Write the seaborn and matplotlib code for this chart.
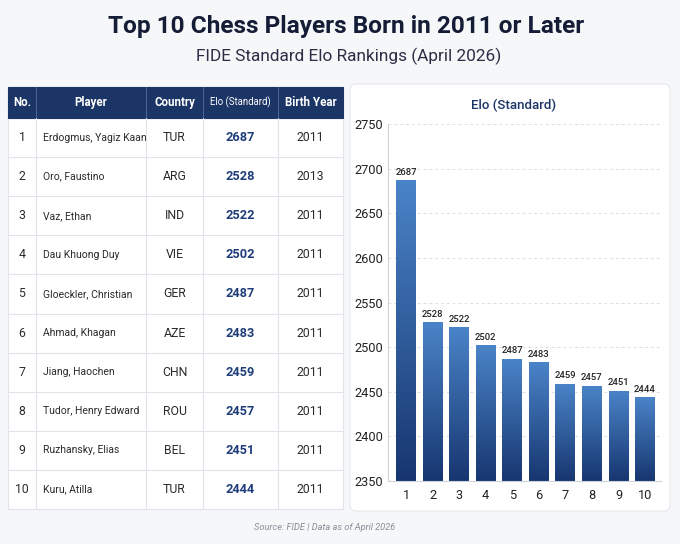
import numpy as np
import matplotlib
matplotlib.use('Agg')
import matplotlib.pyplot as plt
import seaborn as sns
from matplotlib.colors import LinearSegmentedColormap
from matplotlib.patches import Rectangle, FancyBboxPatch

# Data
ranks = [1, 2, 3, 4, 5, 6, 7, 8, 9, 10]
players = ['Erdogmus, Yagiz Kaan', 'Oro, Faustino', 'Vaz, Ethan', 'Dau Khuong Duy',
           'Gloeckler, Christian', 'Ahmad, Khagan', 'Jiang, Haochen',
           'Tudor, Henry Edward', 'Ruzhansky, Elias', 'Kuru, Atilla']
countries = ['TUR', 'ARG', 'IND', 'VIE', 'GER', 'AZE', 'CHN', 'ROU', 'BEL', 'TUR']
elo = [2687, 2528, 2522, 2502, 2487, 2483, 2459, 2457, 2451, 2444]
birth_years = [2011, 2013, 2011, 2011, 2011, 2011, 2011, 2011, 2011, 2011]
headers = ['No.', 'Player', 'Country', 'Elo (Standard)', 'Birth Year']

sns.set_style('white')
plt.rcParams['font.family'] = ['Roboto', 'DejaVu Sans']

navy = '#1b3566'
dark = '#141c36'
bg_col = '#f6f7f9'
line_col = '#e1e4ea'
txt = '#2b2b2b'

fig = plt.figure(figsize=(6.8, 5.44), dpi=100)
fig.patch.set_facecolor(bg_col)

# background axes in pixel coordinates
bg = fig.add_axes([0, 0, 1, 1])
bg.set_xlim(0, 680)
bg.set_ylim(544, 0)
bg.axis('off')

bg.text(346, 26, 'Top 10 Chess Players Born in 2011 or Later', ha='center', va='center',
        fontsize=17.6, fontweight='bold', color=dark)
bg.text(349, 56, 'FIDE Standard Elo Rankings (April 2026)', ha='center', va='center',
        fontsize=12.4, color='#2a2f45')

# table
col_edges = [8, 36, 146, 203, 278, 343]
head_top, head_bot, tab_bot = 87, 118, 509
row_h = (tab_bot - head_bot) / len(ranks)

bg.add_patch(Rectangle((col_edges[0], head_bot), col_edges[-1] - col_edges[0], tab_bot - head_bot,
                       facecolor='white', edgecolor=line_col, lw=0.8))
bg.add_patch(Rectangle((col_edges[0], head_top), col_edges[-1] - col_edges[0], head_bot - head_top,
                       facecolor=navy, edgecolor=navy, lw=0.8))
for xe in col_edges[1:-1]:
    bg.plot([xe, xe], [head_top, head_bot], color='#4a6290', lw=0.8)
    bg.plot([xe, xe], [head_bot, tab_bot], color=line_col, lw=0.8)
for i in range(1, len(ranks)):
    y = head_bot + i * row_h
    bg.plot([col_edges[0], col_edges[-1]], [y, y], color=line_col, lw=0.8)

centers = [(col_edges[i] + col_edges[i + 1]) / 2 for i in range(5)]
hy = (head_top + head_bot) / 2
for i, h in enumerate(headers):
    if i == 3:
        bg.text(centers[i], hy, h, ha='center', va='center', fontsize=6.9, color='white')
    else:
        bg.text(centers[i], hy, h, ha='center', va='center', fontsize=8.3, fontweight='bold', color='white')

for i in range(len(ranks)):
    y = head_bot + (i + 0.5) * row_h
    bg.text(centers[0], y, str(ranks[i]), ha='center', va='center', fontsize=8.8, color=txt)
    bg.text(43, y, players[i], ha='left', va='center', fontsize=7.5, color=txt)
    bg.text(centers[2], y, countries[i], ha='center', va='center', fontsize=8.8, color=txt)
    bg.text(centers[3], y, str(elo[i]), ha='center', va='center', fontsize=9.2, fontweight='bold', color='#1f3d7a')
    bg.text(centers[4], y, str(birth_years[i]), ha='center', va='center', fontsize=8.8, color=txt)

# chart card
bg.add_patch(FancyBboxPatch((350, 84), 320, 427, boxstyle='round,pad=0,rounding_size=6',
                            facecolor='white', edgecolor='#e6e8ec', lw=0.8))
bg.text(514, 105, 'Elo (Standard)', ha='center', va='center', fontsize=9.5,
        fontweight='medium', color=navy)

bg.text(325, 527, 'Source: FIDE | Data as of April 2026', ha='center', va='center',
        fontsize=6.7, style='italic', color='#8a8f99')

# bar chart
ax = fig.add_axes([388 / 680, 1 - 481 / 544, (661 - 388) / 680, (481 - 124) / 544])
sns.barplot(x=ranks, y=elo, ax=ax, width=0.75, color='#2f5fa5', edgecolor='none')
ax.set_yticks(range(2350, 2751, 50))
ax.yaxis.grid(True, linestyle=(0, (3, 3)), color='#dcdfe4', lw=0.7)
ax.set_axisbelow(True)
ax.set_facecolor('white')
for s in ['top', 'right']:
    ax.spines[s].set_visible(False)
ax.spines['left'].set_color('#cfd3da')
ax.spines['bottom'].set_color('#cfd3da')
ax.tick_params(axis='both', length=0, labelsize=9.2, colors='#222222')
ax.tick_params(axis='x', pad=6)
ax.set_xlabel('')
ax.set_ylabel('')

cmap = LinearSegmentedColormap.from_list('bar', ['#173670', '#4a84c8'])
grad = np.linspace(0, 1, 256).reshape(-1, 1)
for p, v in zip(ax.patches, elo):
    x0, w = p.get_x(), p.get_width()
    im = ax.imshow(grad, cmap=cmap, origin='lower', aspect='auto',
                   extent=[x0, x0 + w, 2350, p.get_height()], zorder=2)
    im.set_clip_path(p)
    ax.text(x0 + w / 2, v + 4, str(v), ha='center', va='bottom', fontsize=6.8,
            fontweight='medium', color='#222222')
ax.set_xlim(-0.68, 9.6)
ax.set_ylim(2350, 2750)

fig.savefig('out.png', dpi=100, facecolor=bg_col)
